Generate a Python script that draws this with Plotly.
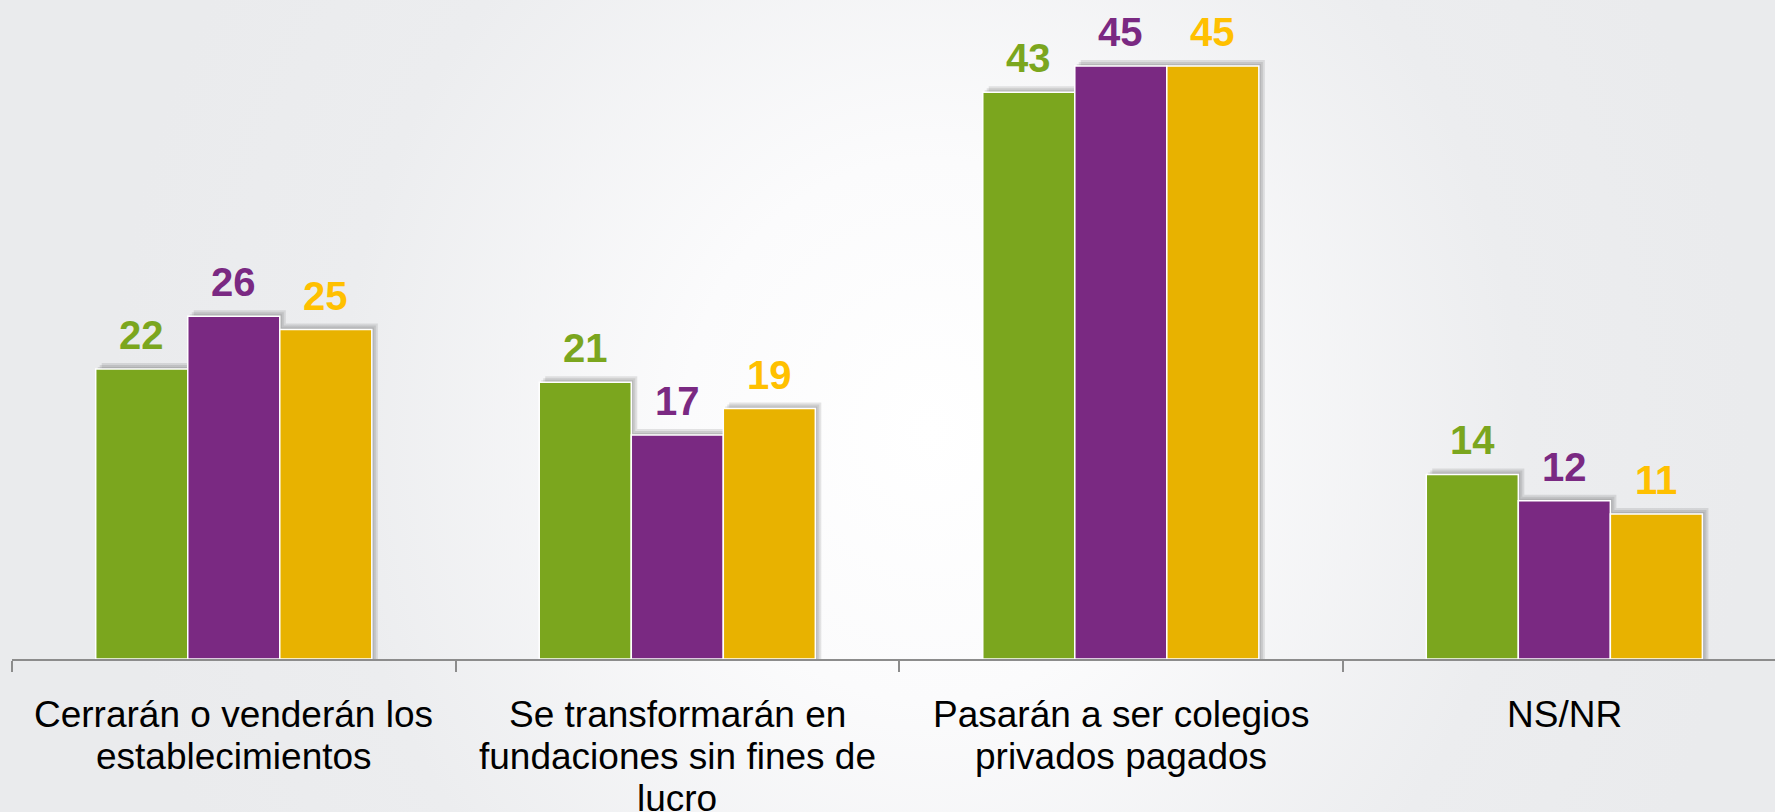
import base64
import plotly.graph_objects as go

# ---------------- data ----------------
categories = [
    "Cerrarán o venderán los establecimientos",
    "Se transformarán en fundaciones sin fines de lucro",
    "Pasarán a ser colegios privados pagados",
    "NS/NR",
]
category_lines = [
    ["Cerrarán o venderán los", "establecimientos"],
    ["Se transformarán en", "fundaciones sin fines de", "lucro"],
    ["Pasarán a ser colegios", "privados pagados"],
    ["NS/NR"],
]
series_names = ["Serie 1", "Serie 2", "Serie 3"]
serie_1 = [22, 21, 43, 14]
serie_2 = [26, 17, 45, 12]
serie_3 = [25, 19, 45, 11]

# ---------------- styling ----------------
W, H = 1775, 812
L, R, T, B = 12, 0, 0, 153
bar_colors = ["#7BA61E", "#7A2982", "#E8B200"]
label_colors = ["#7BA61E", "#7A2982", "#FFC000"]
FONT = "Liberation Sans, Arial, sans-serif"
bw = 0.2075
px_x = (W - L - R) / 3.975      # pixels per category unit
px_y = (H - T - B) / 50.0       # pixels per value unit

series = [serie_1, serie_2, serie_3]

fig = go.Figure()

# soft shadows (drawn first, below the bars)
for k, vals in enumerate(series):
    base_off = (k - 1.5) * bw
    for s in (6, 4, 2):
        fig.add_trace(go.Bar(
            x=categories, y=[v + s / px_y for v in vals],
            width=bw, offset=base_off + s / px_x,
            marker=dict(color="rgba(60,60,60,0.13)", line=dict(width=0)),
            hoverinfo="skip", showlegend=False,
        ))

# main bars
for k, vals in enumerate(series):
    fig.add_trace(go.Bar(
        x=categories, y=vals, name=series_names[k],
        width=bw, offset=(k - 1.5) * bw,
        marker=dict(color=bar_colors[k], line=dict(color="white", width=1.5)),
        showlegend=False,
    ))

annotations = []
# value labels
for k, vals in enumerate(series):
    for i, v in enumerate(vals):
        annotations.append(dict(
            x=i + (k - 1) * bw, y=v, xref="x", yref="y",
            text=f"<b>{v}</b>", showarrow=False,
            yanchor="bottom", xanchor="center", yshift=10,
            font=dict(family=FONT, size=40, color=label_colors[k]),
        ))

# category labels (one annotation per line for tight line spacing)
line_shifts = [-55, -97, -139]
for i, lines in enumerate(category_lines):
    for j, line in enumerate(lines):
        annotations.append(dict(
            x=i, y=0, xref="x", yref="paper",
            text=line, showarrow=False,
            yanchor="middle", xanchor="center", yshift=line_shifts[j],
            font=dict(family=FONT, size=37, color="#000000"),
        ))

# radial background gradient
svg = (
    f"<svg xmlns='http://www.w3.org/2000/svg' width='{W}' height='{H}' "
    f"viewBox='0 0 {W} {H}' preserveAspectRatio='none'>"
    "<defs><radialGradient id='g' gradientUnits='userSpaceOnUse' "
    "cx='930' cy='430' r='820' gradientTransform='translate(930 430) scale(1 1.1) translate(-930 -430)'>"
    "<stop offset='0' stop-color='#FFFFFF'/>"
    "<stop offset='0.3' stop-color='#FBFBFC'/>"
    "<stop offset='0.72' stop-color='#ECEDEF'/>"
    "<stop offset='1' stop-color='#EAEBED'/>"
    "</radialGradient></defs>"
    f"<rect width='{W}' height='{H}' fill='url(#g)'/></svg>"
)
src = "data:image/svg+xml;base64," + base64.b64encode(svg.encode()).decode()
pw, ph = W - L - R, H - T - B

fig.update_layout(
    width=W, height=H,
    margin=dict(l=L, r=R, t=T, b=B, pad=0),
    barmode="overlay",
    paper_bgcolor="#EAEBED",
    plot_bgcolor="rgba(0,0,0,0)",
    showlegend=False,
    hovermode=False,
    annotations=annotations,
    images=[dict(
        source=src, xref="paper", yref="paper",
        x=-L / pw, y=1 + T / ph, sizex=W / pw, sizey=H / ph,
        xanchor="left", yanchor="top", sizing="stretch", layer="below",
    )],
    xaxis=dict(
        type="category", categoryorder="array", categoryarray=categories,
        range=[-0.5, 3.475], tickson="boundaries",
        ticks="outside", ticklen=11, tickwidth=2, tickcolor="#8C8C8C",
        showline=True, linecolor="#8C8C8C", linewidth=2,
        showticklabels=False, showgrid=False, zeroline=False,
    ),
    yaxis=dict(range=[0, 50], visible=False, showgrid=False, zeroline=False),
)

fig.write_html(
    "out.html",
    config={"displayModeBar": False, "staticPlot": True},
    post_script="document.body.style.margin='0';document.body.style.overflow='hidden';",
)
